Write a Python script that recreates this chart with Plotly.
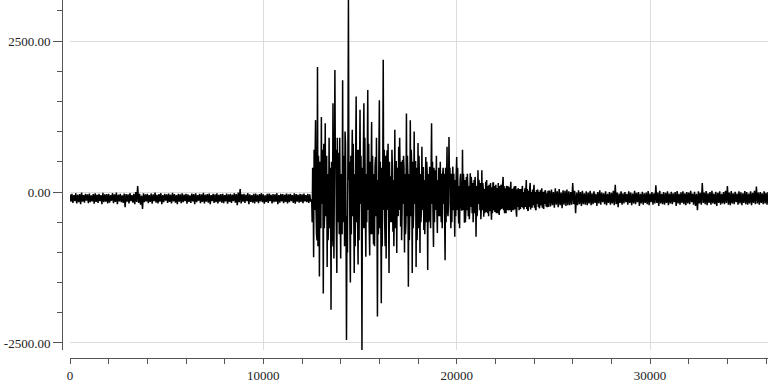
import numpy as np
import plotly.graph_objects as go

# Base sample grid: every 100 x-units (index i -> x = 100*i)
step = 100

# ---- hand-read amplitudes at x = 0, 100, 200, ... ----
quiet_start = [
    -40, -30, -50, -20, -45, -35, -10, -50, -30, -40,
    -25, -55, -35, -20, -45, -30, -50, -15, -40, -35,
    -30, -50, -20, -40, -10, -45, -30, -55, -25, -35,
    -40, -20, -50, -30, 0, 100, -30, -60, -20, -40,
    -30, -50, -25, -40, -10, -45, -35, -20, -50, -30,
    -40, -25, -45, -15, -35, -50, -30, -40, -20, -45,
    -30, -40, -55, -25, -35, -20, -50, -30, -40, -15,
    -45, -35, -25, -50, -30, -40, -20, -45, -35, -30,
    -50, -25, -40, -30, -45, -20, -35, -10, 50, -40,
    -30, -45, -20, -40, -50, -30, -25, -45, -35, -20,
    -40, -55, -30, -25, -45, -35, -40, -20, -50, -30,
    -35, -45, -25, -40, -30, -50, -20, -35, -45, -30,
    -40, -25, -50, -30, -40,
]

strong_motion = [
    -120, -1080, 1190, 2070, -1400, 1240, -1680, 1140, -1240, 900,
    -1950, 1470, 2020, -1340, 650, -1100, 1850, -900, -2450, 3179,
    -1500, 1030, -1340, 1580, -1200, 1360, -2616, 1470, -1070, 1690,
    -1050, 1160, -870, 580, -2060, 1520, -1840, 2190, -900, 690,
    -1340, 260, -660, 1030, -1010, 750, -570, 530, -1000, 1300,
    -1570, 1190, -1340, 1000, -1240, 810, -1010, 750, -630, 580,
    -1290, 420, 1140, -910, 360, -680, 310, -500, 400, -1130,
    750, 910, -600, 420, -740, 580, -520, 300, 700, -510,
    250, -400, 310, -350, 200, -740, 360, -300, 360, -410,
    170, -350, 100, -460, 150, -300, 50, -380, 120, 250,
    -320, 60, -300, 170, -250, 80, -410, 40, -280, 100,
    -200, 200, -310, 150, -250, 120, -300, 20, -220, 60,
    -280, 0, -200,
]

coda = [
    20, 40, 0, 60, 10, 50, -10, 30, 20, 40,
    10, 0, 150, 20, -10, 30, 0, 20, -20, 10,
    -10, 20, -20, 10, -30, 0, 30, -10, -20, 10,
    -30, 0, -15, 20, 120, -10, -25, 10, -20, 0,
    -30, 10, -10, -25, 20, -15, 0, -30, 5, -20,
    -10, 15, -25, 0, -20, 110, -10, 20, -30, 0,
    -15, 10, -25, 5, -20, 0, 15, -30, -5, 10,
    -20, 0, -10, 20, -25, 5, -30, 10, -15, 150,
    -10, 15, -20, 0, 20, -25, 5, -15, 10, -30,
    0, 20, 100, -10, 15, -20, 5, -25, 10, -5,
    -20, 15, 0, -25, 10, -15, 20, 90, -10, 0,
    -20, 10, -15, 0,
]

# ---- hand-read amplitudes at x = 50, 150, 250, ... ----
quiet_start_mid = [
    -160, -180, -150, -190, -170, -200, -160, -175, -145, -185,
    -170, -155, -195, -165, -180, -150, -200, -170, -160, -190,
    -175, -145, -185, -165, -200, -155, -170, -180, -250, -160,
    -190, -150, -175, -200, -165, -180, -210, -280, -170, -155,
    -185, -165, -195, -150, -175, -190, -160, -200, -170, -145,
    -180, -165, -190, -155, -175, -200, -160, -185, -170, -150,
    -195, -165, -180, -155, -200, -170, -145, -185, -165, -190,
    -160, -175, -200, -150, -180, -170, -190, -160, -175, -185,
    -155, -195, -165, -180, -150, -175, -220, -170, -190, -160,
    -180, -150, -200, -165, -175, -190, -160, -185, -155, -170,
    -195, -165, -180, -150, -190, -170, -160, -200, -175, -155,
    -185, -165, -190, -170, -150, -180, -195, -160, -175, -165,
    -185, -155, -170, -180, -160,
]

strong_motion_mid = [
    400, -300, -700, 600, -500, 400, -600, 500, -800, 300,
    -900, -1100, 700, -500, 900, -400, 600, 800, -1000, 500,
    -700, 800, -900, 700, -800, 600, -600, 900, -500, 800,
    -700, 600, -900, 900, -700, 500, -900, 700, -1100, 800,
    -400, 700, -900, 500, -300, 900, -800, 600, -700, 600,
    -800, 700, -600, 500, -800, 600, -500, 400, -700, 500,
    -500, -600, 500, -500, 600, -400, 500, -600, 300, -500,
    -400, 400, -500, 300, -400, 400, -600, -300, 300, -500,
    300, -450, 250, -500, 250, -400, 200, -450, 150, -350,
    200, -400, 150, -350, 100, -350, 150, -300, -250, 100,
    -350, 100, -300, 50, -300, 100, -250, 50, -250, 0,
    -250, 50, -250, 0, -220, 0, -200, 0, -220, 0,
    -200, -20, -250,
]

coda_mid = [
    -240, -220, -260, -210, -250, -220, -270, -210, -230, -220,
    -220, -210, -200, -350, -220, -200, -230, -200, -210, -220,
    -190, -220, -200, -180, -230, -190, -210, -170, -200, -220,
    -180, -210, -190, -220, -200, -250, -180, -210, -190, -170,
    -210, -180, -220, -190, -200, -170, -230, -190, -210, -180,
    -200, -220, -170, -210, -190, -180, -230, -190, -200, -210,
    -180, -220, -190, -200, -170, -230, -190, -210, -180, -200,
    -220, -190, -200, -170, -210, -230, -300, -190, -210, -180,
    -200, -220, -180, -210, -190, -200, -230, -180, -210, -190,
    -200, -180, -210, -220, -190, -200, -170, -210, -190, -220,
    -180, -200, -210, -190, -220, -180, -200, -190, -210, -180,
    -200, -190, -210,
]

# ---- strong-motion only: hand-read amplitudes at x = i*100 + 25 and + 75 ----
strong_motion_q1 = [
    -500, 700, -300, -900, 500, -200, 800, -400, 300, -600,
    500, -300, 400, 900, -700, 300, -500, 1000, -400, 200,
    600, -400, 300, -500, 700, -200, 400, -600, 300, -300,
    500, -700, 300, -400, 200, -600, 400, -300, 600, -300,
    500, -500, 200, -600, 400, -300, 500, -200, 300, -400,
    300, -400, 500, -200, 400, -600, 300, -300, 200, -500,
    300, -300, -200, 400, -300, 200, -400, 300, -200, 400,
    -300, 200, 300, -300, 200, -300, 100, -200, -300, 200,
    -300, 100, -250, 150, -350, 100, -200, 150, -300, 50,
    -330, 100, -320, 80, -300, 120, -350, 100, -280, -300,
    60, -300, 80, -330, 60, -280, 40, -300, 50, -260,
    60, -280, 20, -290, 40, -260, 30, -250, 30, -260,
    10, -240, 20,
]

strong_motion_q3 = [
    200, 500, -800, 300, -600, 700, -300, 600, -500, 400,
    -700, 300, -600, 500, -300, -700, 400, -500, 700, -600,
    400, -300, 600, -500, 300, -400, 700, -300, 500, -600,
    300, -500, 400, -200, 600, -400, 300, -500, 400, -300,
    -500, 400, -300, 500, -400, 300, -300, 400, -500, 300,
    -300, 400, -300, 500, -400, 200, -300, 400, -200, 300,
    -400, 300, -400, 200, -300, 400, -200, 300, -400, 200,
    -200, -300, 200, -200, 300, -200, 200, -300, 100, -300,
    100, -300, 150, -250, 50, -300, 100, -250, 50, -300,
    -300, 120, -280, 150, -330, 60, -300, 80, 130, -350,
    100, -280, 50, -300, 90, -320, 60, -260, 40, -290,
    30, -300, 60, -250, 20, -280, 40, -270, 20, -240,
    30, -250, 10,
]

on_step = quiet_start + strong_motion + coda
mid_step = quiet_start_mid + strong_motion_mid + coda_mid
strong_first = len(quiet_start)
strong_last = strong_first + len(strong_motion) - 1

xs, ys = [], []
for i, v in enumerate(on_step):
    xs.append(i * step)
    ys.append(v)
    if strong_first <= i <= strong_last:
        k = i - strong_first
        xs.append(i * step + step * 0.25)
        ys.append(strong_motion_q1[k])
    if i < len(mid_step):
        xs.append(i * step + step * 0.5)
        ys.append(mid_step[i])
    if strong_first <= i <= strong_last:
        k = i - strong_first
        xs.append(i * step + step * 0.75)
        ys.append(strong_motion_q3[k])

sample_x = np.array(xs, dtype=float)
amplitude = np.array(ys, dtype=float)

x_ticks = [0, 10000, 20000, 30000]
y_ticks = [-2500, 0, 2500]

fig = go.Figure(
    go.Scatter(
        x=sample_x,
        y=amplitude,
        mode="lines",
        line=dict(color="#000000", width=1.5, simplify=False),
        hoverinfo="skip",
        showlegend=False,
    )
)

W, H = 768, 384
ml, mb = 62, 26
gap = 8
fig.update_layout(
    width=W,
    height=H,
    margin=dict(l=ml, r=0, t=0, b=mb, pad=0),
    paper_bgcolor="white",
    plot_bgcolor="white",
    font=dict(family="Liberation Serif", size=13, color="#222"),
    xaxis=dict(
        domain=[gap / (W - ml), 1],
        anchor="free",
        position=0,
        range=[0, float(sample_x.max())],
        tickvals=x_ticks,
        ticktext=[str(v) for v in x_ticks],
        ticks="outside",
        ticklen=5,
        tickcolor="#555",
        showline=True,
        linecolor="#555",
        linewidth=1,
        showgrid=True,
        gridcolor="#dcdcdc",
        gridwidth=1,
        zeroline=False,
        minor=dict(dtick=2000, tick0=0, ticks="outside", ticklen=5, tickcolor="#555", showgrid=False),
    ),
    yaxis=dict(
        domain=[gap / (H - mb), 1],
        anchor="free",
        position=0,
        range=[float(amplitude.min()), float(amplitude.max())],
        tickvals=y_ticks,
        ticktext=[f"{v:.2f}" for v in y_ticks],
        ticks="outside",
        ticklen=9,
        tickcolor="#555",
        showline=True,
        linecolor="#555",
        linewidth=1,
        showgrid=True,
        gridcolor="#dcdcdc",
        gridwidth=1,
        zeroline=False,
        minor=dict(dtick=500, tick0=0, ticks="outside", ticklen=5, tickcolor="#555", showgrid=False),
    ),
)

fig.write_html("out.html")
